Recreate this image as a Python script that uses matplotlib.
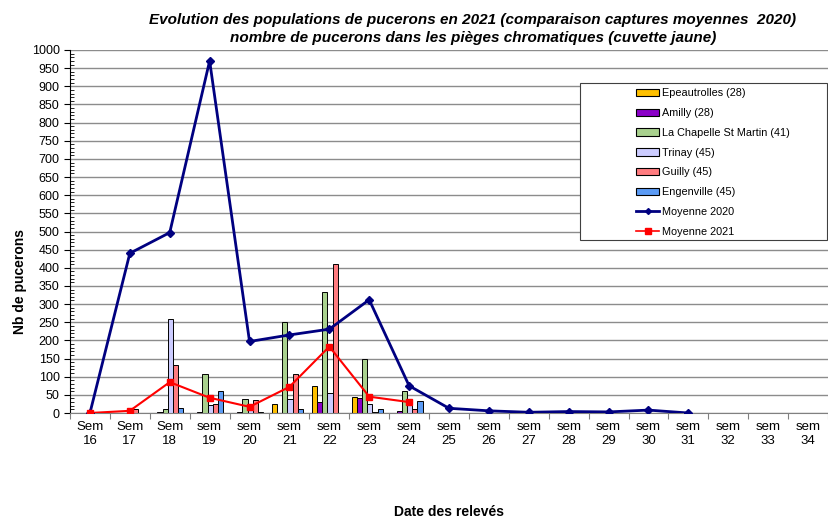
import numpy as np
import matplotlib
matplotlib.use('Agg')
import matplotlib.pyplot as plt
from matplotlib.patches import Patch, Rectangle
from matplotlib.lines import Line2D
from matplotlib.ticker import MultipleLocator, FixedLocator

plt.rcParams['font.family'] = ['Liberation Sans', 'DejaVu Sans']

weeks = list(range(16, 35))
tickLabels = ['Sem\n%d' % w if w < 19 else 'sem\n%d' % w for w in weeks]

# weekly captures 2021 (sem 16 -> sem 24)
barWeeks = list(range(16, 25))
epeautrolles = [0, 0, 0, 0, 0, 24, 74, 45, 0]
amilly = [0, 0, 2, 2, 2, 1, 30, 41, 6]
laChapelle = [0, 0, 12, 107, 39, 251, 333, 148, 61]
trinay = [0, 5, 260, 21, 8, 38, 55, 25, 37]
guilly = [0, 12, 131, 26, 36, 107, 410, 4, 10]
engenville = [0, 0, 14, 61, 2, 11, 0, 11, 34]

moy2021 = [0, 6, 85, 42, 17, 72, 183, 45, 30]

weeks2020 = list(range(16, 32))
moy2020 = [0, 440, 497, 970, 197, 215, 231, 312, 75, 13, 6, 2, 4, 3, 8, 0]

series = [
    ('Epeautrolles (28)', epeautrolles, '#FFC000'),
    ('Amilly (28)', amilly, '#8B00C8'),
    ('La Chapelle St Martin (41)', laChapelle, '#A9D18E'),
    ('Trinay (45)', trinay, '#CCCCFF'),
    ('Guilly (45)', guilly, '#FF7C80'),
    ('Engenville (45)', engenville, '#5B9BF5'),
]

fig = plt.figure(figsize=(8.29, 5.21), dpi=100)
ax = fig.add_axes([70/829, 1-413/521, 758/829, 363/521])

barW = 0.13
x = np.array(barWeeks, dtype=float)
handles = []
for i, (name, vals, col) in enumerate(series):
    ax.bar(x + (i - 2.5) * barW - 0.05, vals, width=barW, color=col,
           edgecolor='black', linewidth=0.7, zorder=2)
    handles.append(Patch(facecolor=col, edgecolor='black', linewidth=0.8, label=name))

ax.plot(weeks2020, moy2020, color='#000080', lw=2, marker='D', ms=4.5, zorder=3)
ax.plot(barWeeks, moy2021, color='#FF0000', lw=1.5, marker='s', ms=5, zorder=4)
handles.append(Line2D([], [], color='#000080', lw=2, marker='D', ms=3, label='Moyenne 2020'))
handles.append(Line2D([], [], color='#FF0000', lw=1.2, marker='s', ms=5, label='Moyenne 2021'))

ax.set_xlim(15.5, 34.5)
ax.set_ylim(0, 1000)
ax.yaxis.set_major_locator(MultipleLocator(50))
ax.yaxis.set_minor_locator(MultipleLocator(10))
ax.grid(axis='y', color='#8c8c8c', lw=1, zorder=0)
ax.set_axisbelow(True)
ax.tick_params(axis='y', which='major', labelsize=9, length=4, direction='out')
ax.tick_params(axis='y', which='minor', length=3, direction='in')

ax.xaxis.set_major_locator(FixedLocator(np.arange(15.5, 35, 1)))
ax.xaxis.set_minor_locator(FixedLocator(weeks))
ax.xaxis.set_major_formatter(plt.NullFormatter())
ax.set_xticks(weeks, tickLabels, minor=True)
ax.tick_params(axis='x', which='major', length=4, direction='out', color='#808080')
ax.tick_params(axis='x', which='minor', length=0, labelsize=9.5, pad=6)

for s in ['top', 'right']:
    ax.spines[s].set_visible(False)
ax.spines['bottom'].set_color('#808080')

fig.text(473/829, 1-20/521,
         'Evolution des populations de pucerons en 2021 (comparaison captures moyennes  2020)',
         ha='center', va='center', fontsize=11, fontweight='bold', style='italic')
fig.text(473/829, 1-38/521,
         'nombre de pucerons dans les pièges chromatiques (cuvette jaune)',
         ha='center', va='center', fontsize=11, fontweight='bold', style='italic')
fig.text(20/829, 1-281/521, 'Nb de pucerons', rotation=90, ha='center', va='center',
         fontsize=10, fontweight='bold')
fig.text(449/829, 1-512/521, 'Date des relevés', ha='center', va='center',
         fontsize=10, fontweight='bold')

fig.patches.append(Rectangle((580/829, 1-240/521), 247/829, 157/521,
                             transform=fig.transFigure, facecolor='white',
                             edgecolor='#404040', lw=0.8, zorder=5))
leg = fig.legend(handles=handles, loc='upper left', bbox_to_anchor=(632/829, 1-84/521),
                 frameon=False, fontsize=7.8, handlelength=2.1, handletextpad=0.3,
                 labelspacing=0.9, borderaxespad=0)
leg.set_zorder(6)

fig.savefig('out.png', dpi=100)
